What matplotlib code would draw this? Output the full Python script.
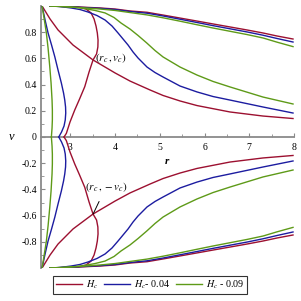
import matplotlib
matplotlib.use("Agg")
import matplotlib.pyplot as plt
import numpy as np

plt.rcParams['font.family'] = ['Liberation Serif', 'DejaVu Serif']
plt.rcParams['mathtext.fontset'] = 'stix'

# ---- data (upper half, v >= 0); lower half is the mirror image (v -> -v) ----
# H_c
red_a_r = [2.369, 2.547, 2.726, 3.061, 3.508, 4.0, 4.335, 4.782, 5.073, 5.453, 5.832, 6.570, 7.307, 7.978]
red_a_v = [1.0, 0.901, 0.817, 0.702, 0.588, 0.489, 0.427, 0.359, 0.317, 0.275, 0.240, 0.191, 0.160, 0.141]
red_b_r = [2.547, 2.883, 3.173, 3.352, 3.464, 3.531, 3.575, 3.604, 3.620, 3.616, 3.587, 3.508,
           3.419, 3.323, 3.207, 3.099, 2.994, 2.912, 2.860]
red_b_v = [1.0, 0.998, 0.992, 0.977, 0.947, 0.901, 0.847, 0.794, 0.740, 0.687, 0.634, 0.588,
           0.496, 0.384, 0.290, 0.206, 0.115, 0.028, 0.0]
red_t_r = [2.547, 3.218, 3.665, 4.0, 4.335, 4.715, 5.073, 5.453, 5.832, 6.190, 6.570, 6.950, 7.307, 7.620, 7.978]
red_t_v = [1.0, 0.992, 0.985, 0.977, 0.962, 0.952, 0.931, 0.908, 0.885, 0.863, 0.840, 0.817, 0.794, 0.771, 0.748]
# H_c - 0.04
blue_a_r = [2.369, 2.436, 2.503, 2.581, 2.653, 2.726, 2.800, 2.849, 2.876, 2.894, 2.898, 2.887, 2.860, 2.804, 2.742]
blue_a_v = [1.0, 0.893, 0.794, 0.702, 0.613, 0.511, 0.412, 0.336, 0.282, 0.229, 0.183, 0.130, 0.084, 0.038, 0.0]
blue_b_r = [2.547, 2.771, 3.017, 3.218, 3.397, 3.598, 3.777, 3.933, 4.067, 4.179, 4.291, 4.402, 4.514,
            4.715, 4.894, 5.073, 5.453, 5.832, 6.190, 6.570, 7.307, 7.978]
blue_b_v = [1.0, 0.996, 0.985, 0.973, 0.954, 0.927, 0.893, 0.847, 0.794, 0.748, 0.702, 0.649, 0.603,
            0.534, 0.492, 0.458, 0.389, 0.344, 0.309, 0.282, 0.229, 0.183]
blue_t_r = [2.547, 3.218, 3.665, 4.0, 4.335, 4.715, 5.073, 5.453, 5.832, 6.190, 6.570, 6.950, 7.307, 7.620, 7.978]
blue_t_v = [1.0, 0.990, 0.982, 0.973, 0.958, 0.945, 0.924, 0.899, 0.874, 0.850, 0.826, 0.802, 0.777, 0.752, 0.725]
# H_c - 0.09
green_a_r = [2.369, 2.413, 2.465, 2.503, 2.541, 2.570, 2.592, 2.599, 2.599, 2.592, 2.577]
green_a_v = [1.0, 0.908, 0.794, 0.679, 0.537, 0.412, 0.282, 0.206, 0.130, 0.069, 0.0]
green_b_r = [2.547, 2.883, 3.240, 3.553, 3.777, 3.978, 4.134, 4.335, 4.514, 4.708, 4.894, 5.073,
             5.453, 5.832, 6.190, 6.570, 7.307, 7.978]
green_b_v = [1.0, 0.996, 0.985, 0.966, 0.947, 0.912, 0.870, 0.824, 0.775, 0.718, 0.660, 0.611,
             0.534, 0.473, 0.424, 0.382, 0.305, 0.252]
green_t_r = [2.547, 3.218, 3.665, 4.0, 4.335, 4.715, 5.073, 5.453, 5.832, 6.190, 6.570, 6.950, 7.307, 7.620, 7.978]
green_t_v = [1.0, 0.988, 0.977, 0.966, 0.950, 0.932, 0.910, 0.884, 0.857, 0.832, 0.807, 0.782, 0.756, 0.724, 0.690]

rc, vc = 3.51, 0.588

xticks = [3, 4, 5, 6, 7, 8]
yticks = [-0.8, -0.6, -0.4, -0.2, 0, 0.2, 0.4, 0.6, 0.8]
ytick_labels = ['-0.8', '-0.6', '-0.4', '-0.2', '0', '0.2', '0.4', '0.6', '0.8']
legend_labels = [r'$H_c$', r'$H_c$- 0.04', r'$H_c$ - 0.09']

RED = '#9c1030'
BLUE = '#1c1ca0'
GREEN = '#5e9a18'

fig = plt.figure(figsize=(3.01, 3.01), dpi=100)
ax = fig.add_axes([41/301, 33/301, 253/301, 262/301])

lw = 1.0
groups = [
    (RED, [(red_a_r, red_a_v), (red_b_r, red_b_v), (red_t_r, red_t_v)]),
    (BLUE, [(blue_a_r, blue_a_v), (blue_b_r, blue_b_v), (blue_t_r, blue_t_v)]),
    (GREEN, [(green_a_r, green_a_v), (green_b_r, green_b_v), (green_t_r, green_t_v)]),
]
handles = []
for color, curves in groups:
    for i, (r, v) in enumerate(curves):
        r = np.asarray(r); v = np.asarray(v)
        h, = ax.plot(r, v, color=color, lw=lw, solid_joinstyle='round')
        ax.plot(r, -v, color=color, lw=lw, solid_joinstyle='round')
        if i == 0:
            handles.append(h)

ax.set_xlim(2.345, 8.0)
ax.set_ylim(-1.0, 1.0)

for s in ['top', 'right']:
    ax.spines[s].set_visible(False)
ax.spines['bottom'].set_position(('data', 0))
for s in ['left', 'bottom']:
    ax.spines[s].set_color('#8a8a8a')
    ax.spines[s].set_linewidth(1.3)
    ax.spines[s].set_zorder(0.5)

ax.set_xticks(xticks)
ax.set_xticks([3.5, 4.5, 5.5, 6.5, 7.5], minor=True)
ax.set_yticks(yticks)
ax.set_yticklabels(ytick_labels)
ax.set_yticks(np.arange(-0.9, 0.95, 0.2), minor=True)
ax.tick_params(which='both', direction='in', colors='#8a8a8a', labelcolor='black',
               labelsize=7)
ax.tick_params(which='major', length=3, width=0.8)
ax.tick_params(which='minor', length=2, width=0.6)
ax.tick_params(axis='x', pad=4)
ax.tick_params(axis='y', pad=3)

ax.text(5.17, -0.19, 'r', fontsize=8, fontweight='bold', style='italic',
        ha='center', va='center')
fig.text(12/301, 1 - 137/301, 'v', fontsize=9, style='italic', ha='center', va='center')

ax.text(3.56, 0.605, r'$\left(r_c\,,v_c\right)$', fontsize=8, ha='left', va='center')
ax.annotate(r'$\left(r_c\,,-v_c\right)$', xy=(rc, -vc), xytext=(3.80, -0.38),
            fontsize=8, ha='center', va='center',
            arrowprops=dict(arrowstyle='-', color='black', lw=0.7,
                            shrinkA=4, shrinkB=0))

leg = fig.legend(handles, legend_labels, loc='center',
                 bbox_to_anchor=(150/301, 1 - 285/301), ncol=3, fontsize=7.2,
                 frameon=True, fancybox=False, edgecolor='black',
                 handlelength=2.6, handletextpad=0.4, columnspacing=0.6,
                 borderpad=0.3)
leg.get_frame().set_linewidth(0.8)

fig.savefig('out.png', dpi=100)
